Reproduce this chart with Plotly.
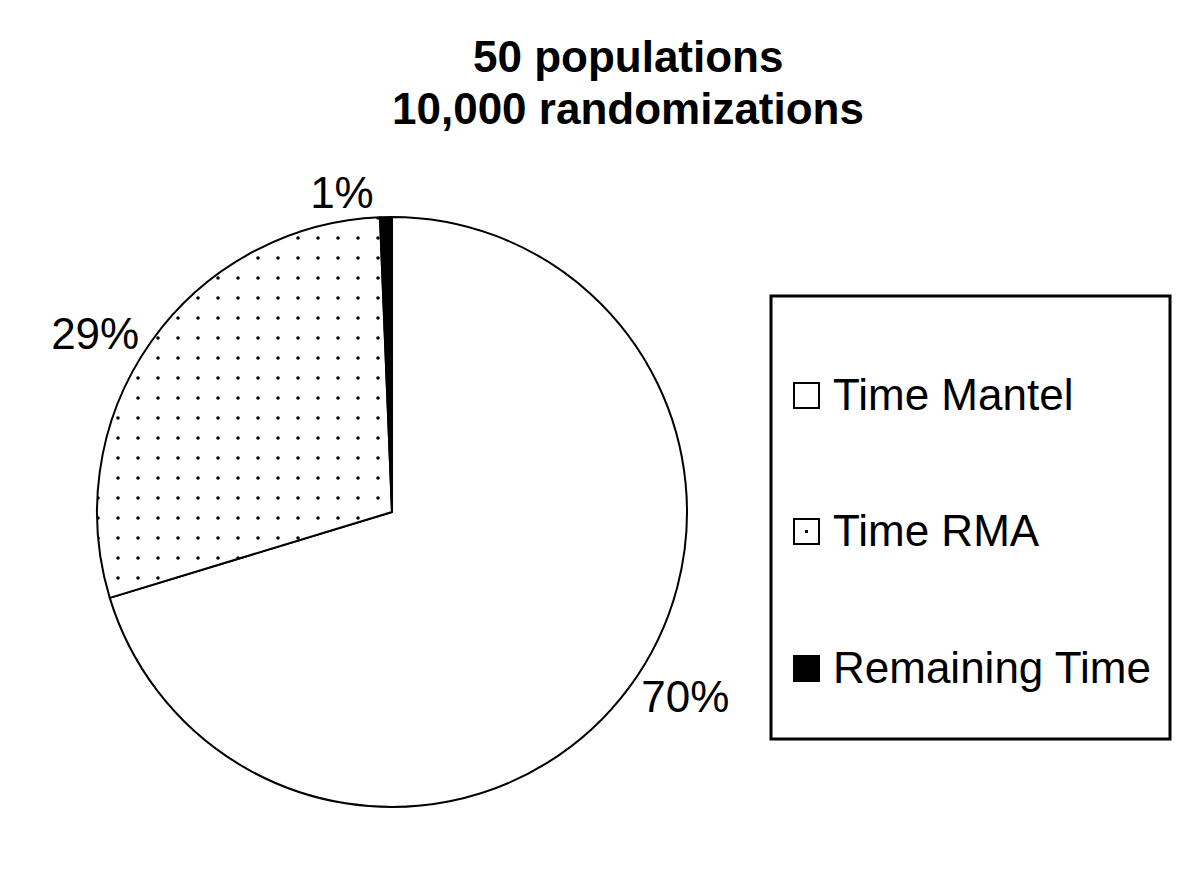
import plotly.graph_objects as go

# chart data
labels = ["Time Mantel", "Time RMA", "Remaining Time"]
values = [70.3, 29.05, 0.65]
fills = ["white", "white", "black"]
patterns = ["", ".", ""]
title_lines = ["50 populations", "10,000 randomizations"]

W, H = 1200, 890

def px_x(x):
    return x / W

def px_y(y):
    return 1 - y / H

fig = go.Figure()

fig.add_trace(go.Pie(
    labels=labels,
    values=values,
    sort=False,
    direction="clockwise",
    rotation=0,
    marker=dict(
        colors=fills,
        line=dict(color="black", width=2),
        pattern=dict(shape=patterns, fgcolor="black", bgcolor="white",
                     size=20, solidity=0.025, fillmode="replace"),
    ),
    texttemplate="%{percent:.0%}",
    textposition="outside",
    textfont=dict(family="Liberation Sans, Arial", size=44, color="black"),
    domain=dict(x=[px_x(89), px_x(679)], y=[px_y(799), px_y(209)]),
    showlegend=False,
    hoverinfo="label+percent",
))

# title, two lines
title_font = dict(family="Liberation Sans, Arial", size=44, color="black")
for i, line in enumerate(title_lines):
    fig.add_annotation(text="<b>" + line + "</b>", x=px_x(620), y=px_y(48 + 52 * i),
                       xref="paper", yref="paper", showarrow=False,
                       xanchor="center", yanchor="middle", font=title_font)

# legend box drawn by hand
fig.add_shape(type="rect", xref="paper", yref="paper",
              x0=px_x(763), x1=px_x(1162), y0=px_y(731), y1=px_y(288),
              line=dict(color="black", width=3), fillcolor="white", layer="below")

item_y = [388, 524, 661]
for lab, fc, pat, yc in zip(labels, fills, patterns, item_y):
    fig.add_shape(type="rect", xref="paper", yref="paper",
                  x0=px_x(786), x1=px_x(811), y0=px_y(yc + 12), y1=px_y(yc - 13),
                  line=dict(color="black", width=2), fillcolor=fc)
    if pat == ".":
        fig.add_shape(type="rect", xref="paper", yref="paper",
                      x0=px_x(797), x1=px_x(800), y0=px_y(yc + 1), y1=px_y(yc - 2),
                      line=dict(width=0), fillcolor="black")
    fig.add_annotation(text=lab, x=px_x(823), y=px_y(yc - 2),
                       xref="paper", yref="paper", showarrow=False,
                       xanchor="left", yanchor="middle",
                       font=dict(family="Liberation Sans, Arial", size=44, color="black"))

fig.update_layout(
    width=W,
    height=H,
    margin=dict(l=0, r=0, t=0, b=0),
    paper_bgcolor="white",
    plot_bgcolor="white",
)

fig.write_html("out.html")
